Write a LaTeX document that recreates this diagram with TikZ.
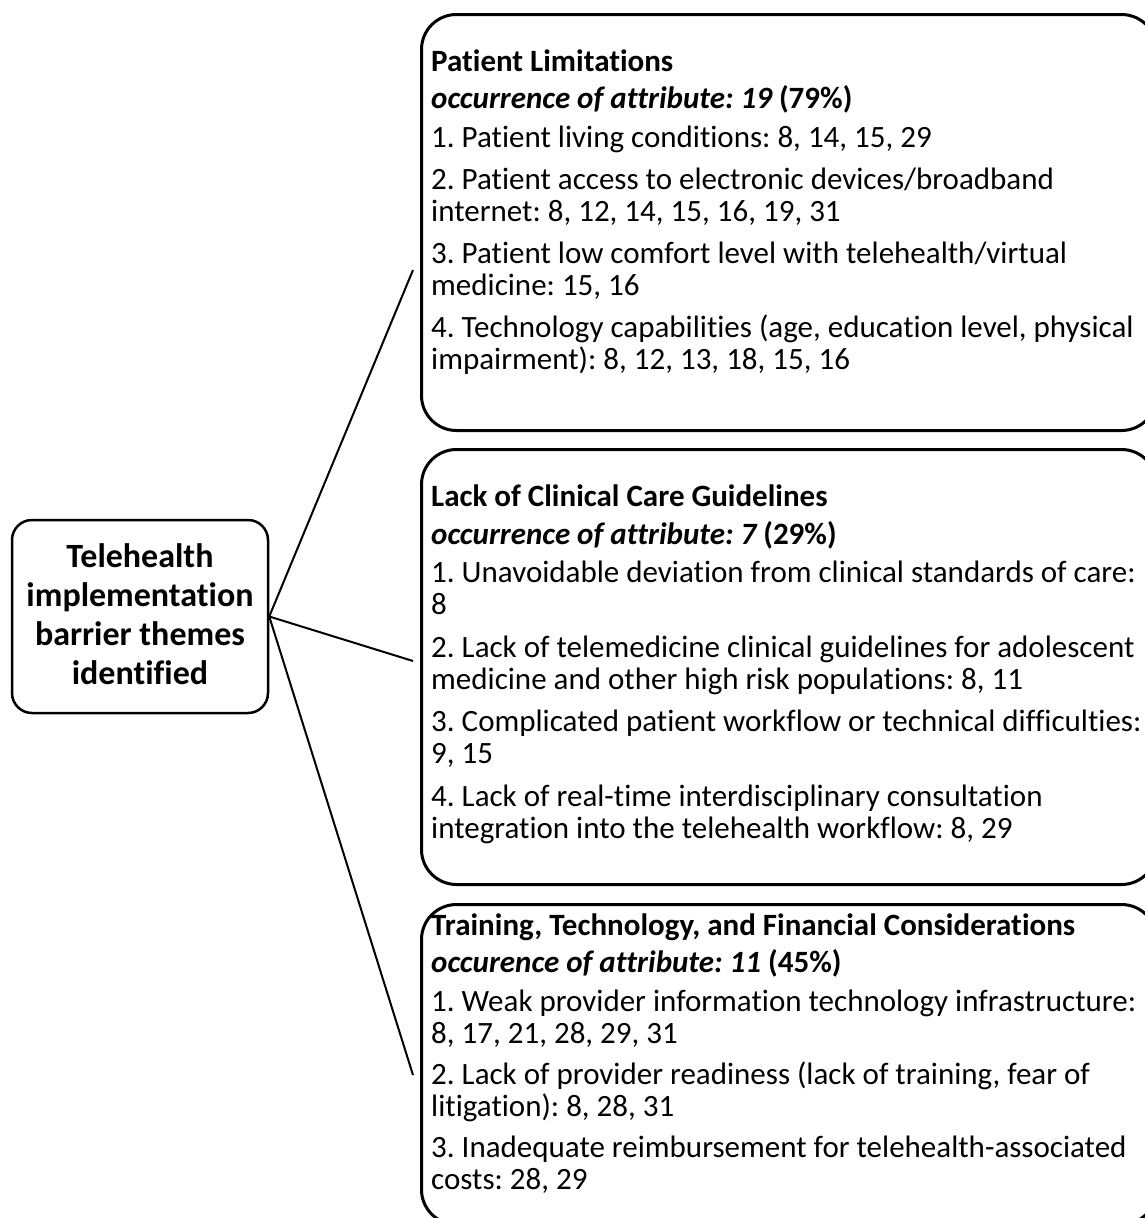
\documentclass[tikz,border=0pt]{standalone}
\usepackage{fontspec}
\setmainfont{Carlito}[Ligatures=NoCommon]
\frenchspacing
\newcommand\bodysize{\fontsize{31}{32}\selectfont\frenchspacing}
\newcommand\tline[1]{\hbox{#1}}
\newcommand\occ[2]{\hbox{\bfseries\itshape #1 \upshape#2}}
\tikzset{
  theme/.style={draw, line width=3pt, rounded corners=35pt, anchor=north west, inner sep=0pt},
  hubbox/.style={draw, line width=2.5pt, rounded corners=20pt, minimum width=256pt, minimum height=193pt, inner sep=0pt},
  hubtext/.style={align=center, font=\fontsize{34}{39}\selectfont\bfseries, inner sep=0pt},
  txt/.style={anchor=base west, inner sep=0pt, font=\bodysize},
  link/.style={line width=2pt}
}
\begin{document}
\begin{tikzpicture}[x=1pt, y=-1pt]
\useasboundingbox (0,0) rectangle (1145,1218);
% hub
\node[hubbox] (hub) at (140,616.5) {};
\node[hubtext] (hubt) at (140,614) {Telehealth\\implementation\\barrier themes\\identified};
% theme boxes
\node[theme, minimum width=735pt, minimum height=416pt] (b1) at (420,13) {};
\node[theme, minimum width=735pt, minimum height=435pt] (b2) at (420,448) {};
\node[theme, minimum width=735pt, minimum height=320pt] (b3) at (420,903) {};
% texts
\node[txt] (t1) at (431,71) {\vtop{\baselineskip=32pt\lineskiplimit=-100pt
\tline{\bfseries Patient Limitations}\vskip5pt
\occ{occurrence of attribute: 19}{(79\%)}\vskip7pt
\tline{1. Patient living conditions: 8, 14, 15, 29}\vskip10pt
\tline{2. Patient access to electronic devices/broadband}
\tline{internet: 8, 12, 14, 15, 16, 19, 31}\vskip10pt
\tline{3. Patient low comfort level with telehealth/virtual}
\tline{medicine: 15, 16}\vskip10pt
\tline{4. Technology capabilities (age, education level, physical}
\tline{impairment): 8, 12, 13, 18, 15, 16}}};
\node[txt] (t2) at (431,506) {\vtop{\baselineskip=32pt\lineskiplimit=-100pt
\tline{\bfseries Lack of Clinical Care Guidelines}\vskip6pt
\occ{occurrence of attribute: 7}{(29\%)}\vskip6pt
\tline{1. Unavoidable deviation from clinical standards of care:}
\tline{8}\vskip11pt
\tline{2. Lack of telemedicine clinical guidelines for adolescent}
\tline{medicine and other high risk populations: 8, 11}\vskip10pt
\tline{3. Complicated patient workflow or technical difficulties:}
\tline{9, 15}\vskip11pt
\tline{4. Lack of real-time interdisciplinary consultation}
\tline{integration into the telehealth workflow: 8, 29}}};
\node[txt] (t3) at (431,935) {\vtop{\baselineskip=32pt\lineskiplimit=-100pt
\tline{\bfseries Training, Technology, and Financial Considerations}\vskip5pt
\occ{occurence of attribute: 11}{(45\%)}\vskip7pt
\tline{1. Weak provider information technology infrastructure:}
\tline{8, 17, 21, 28, 29, 31}\vskip9pt
\tline{2. Lack of provider readiness (lack of training, fear of}
\tline{litigation): 8, 28, 31}\vskip9pt
\tline{3. Inadequate reimbursement for telehealth-associated}
\tline{costs: 28, 29}}};
% connectors
\coordinate (e1) at (413,270);
\coordinate (e2) at (413,661);
\coordinate (e3) at (413,1075);
\draw[link] (hub.east) -- (e1);
\draw[link] (hub.east) -- (e2);
\draw[link] (hub.east) -- (e3);
\end{tikzpicture}
\end{document}
